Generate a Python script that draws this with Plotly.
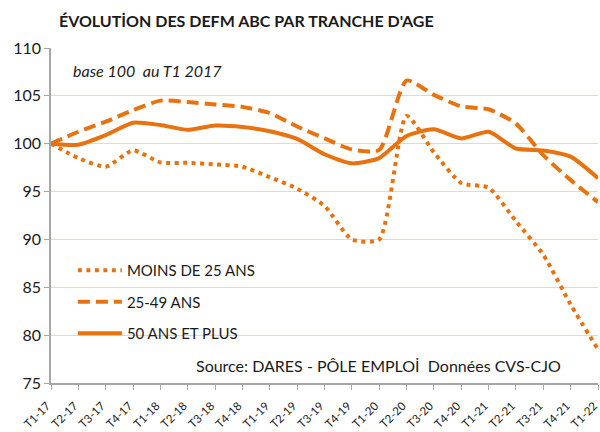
import plotly.graph_objects as go

categories = ["T1-17","T2-17","T3-17","T4-17","T1-18","T2-18","T3-18","T4-18",
              "T1-19","T2-19","T3-19","T4-19","T1-20","T2-20","T3-20","T4-20",
              "T1-21","T2-21","T3-21","T4-21","T1-22"]
moins_25 = [100, 98.5, 97.6, 99.3, 98.05, 98.0, 97.85, 97.6, 96.5, 95.3, 93.5,
            90.0, 90.0, 102.9, 99.1, 95.9, 95.4, 91.9, 88.4, 83.2, 78.5]
age_25_49 = [100, 101.25, 102.3, 103.5, 104.5, 104.35, 104.1, 103.85, 103.2, 101.8,
             100.55, 99.4, 99.35, 106.6, 105.1, 103.9, 103.6, 102.1, 98.8, 96.2, 93.9]
plus_50 = [100, 99.9, 100.9, 102.2, 101.95, 101.45, 101.9, 101.75, 101.3, 100.5,
           98.9, 97.95, 98.5, 100.8, 101.5, 100.55, 101.25, 99.5, 99.3, 98.65, 96.4]
series_names = ["MOINS DE 25 ANS", "25-49 ANS", "50 ANS ET PLUS"]
y_ticks = [75, 80, 85, 90, 95, 100, 105, 110]

ORANGE = "#E8720F"
FONT = "Lato"
x = list(range(len(categories)))

fig = go.Figure()
styles = [dict(dash="4px,4.5px", width=4), dict(dash="12px,6px", width=4), dict(dash="solid", width=4)]
for name, vals, st, g in zip(series_names, [moins_25, age_25_49, plus_50], styles, ["a", "b", "c"]):
    fig.add_trace(go.Scatter(
        x=x, y=vals, name=name, mode="lines", legendgroup=g,
        line=dict(color=ORANGE, width=st["width"], dash=st["dash"], shape="spline", smoothing=0.6),
    ))

fig.update_layout(
    width=600, height=432,
    margin=dict(l=51, r=2, t=48, b=49),
    paper_bgcolor="white", plot_bgcolor="white",
    font=dict(family=FONT, color="#1a1a1a"),
    showlegend=True,
    legend=dict(x=0.04, y=0.385, xanchor="left", yanchor="top",
                font=dict(size=15, family=FONT, color="#1a1a1a"),
                bgcolor="rgba(0,0,0,0)", tracegroupgap=9, itemwidth=44),
    xaxis=dict(
        range=[0, 20], tickmode="array", tickvals=x, ticktext=categories,
        tickangle=-45, tickfont=dict(size=11.5, family=FONT, color="#1a1a1a"),
        showgrid=False, showline=True, linecolor="#A6A6A6", linewidth=1.5,
        ticks="outside", ticklen=5, tickcolor="#A6A6A6", zeroline=False,
        automargin=False, ticklabeloverflow="allow",
        ticklabelstandoff=5, ticklabelshift=-4,
    ),
    yaxis=dict(
        range=[75, 110], tickmode="array", tickvals=y_ticks,
        tickfont=dict(size=16, family=FONT, color="#1a1a1a"),
        showgrid=True, gridcolor="#FAD3B0", gridwidth=1,
        showline=True, linecolor="#A6A6A6", linewidth=1.5,
        ticks="outside", ticklen=5, tickcolor="#A6A6A6", zeroline=False,
        automargin=False,
    ),
    annotations=[
        dict(text="<b>ÉVOLUTİON DES DEFM ABC PAR TRANCHE D'AGE</b>", xref="paper", yref="paper",
             x=(246 - 51) / 547, y=(432 - 49 - 21) / 335, xanchor="center", yanchor="middle",
             showarrow=False, font=dict(size=16, family=FONT, color="#1a1a1a")),
        dict(text="<i>base 100  au T1 2017</i>", xref="paper", yref="paper",
             x=(71 - 51) / 547, y=(432 - 49 - 70) / 335, xanchor="left", yanchor="middle",
             showarrow=False, font=dict(size=16, family=FONT, color="#1a1a1a")),
        dict(text="Source: DARES - PÔLE EMPLOİ  Données CVS-CJO", xref="paper", yref="paper",
             x=(378 - 51) / 547, y=(432 - 49 - 365) / 335, xanchor="center", yanchor="middle",
             showarrow=False, font=dict(size=16, family=FONT, color="#1a1a1a")),
    ],
)

fig.write_html("out.html", post_script="document.body.style.margin='0';",
               config={"displayModeBar": False})
